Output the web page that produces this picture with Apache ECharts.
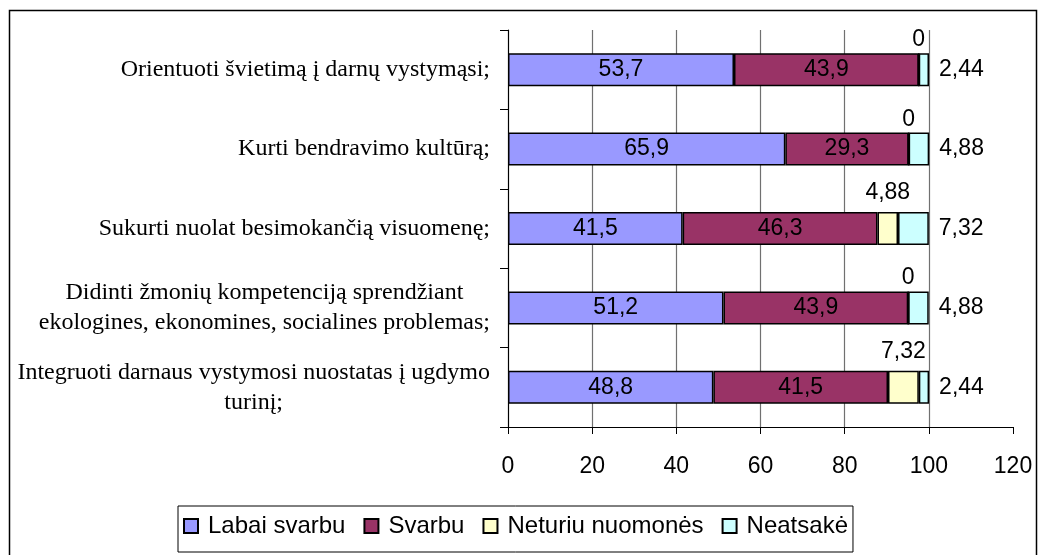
<!DOCTYPE html>
<html>
<head>
<meta charset="utf-8">
<script src="https://cdn.jsdelivr.net/npm/echarts@6/dist/echarts.min.js"></script>
<style>
  html, body { margin: 0; padding: 0; background: #fff; }
  #chart { width: 1042px; height: 555px; }
</style>
</head>
<body>
<div id="chart"></div>
<script>
// kategorijos (iš viršaus į apačią)
var categories = [
    'Orientuoti švietimą į darnų vystymąsi;',
    'Kurti bendravimo kultūrą;',
    'Sukurti nuolat besimokančią visuomenę;',
    'Didinti žmonių kompetenciją sprendžiant\nekologines, ekonomines, socialines problemas;',
    'Integruoti darnaus vystymosi nuostatas į ugdymo\nturinį;'
];
var seriesNames = ['Labai svarbu', 'Svarbu', 'Neturiu nuomonės', 'Neatsakė'];
var labaiSvarbu = [53.7, 65.9, 41.5, 51.2, 48.8];
var svarbu = [43.9, 29.3, 46.3, 43.9, 41.5];
var neturiuNuomones = [0, 0, 4.88, 0, 7.32];
var neatsake = [2.44, 4.88, 7.32, 4.88, 2.44];
var xTicks = [0, 20, 40, 60, 80, 100, 120];

var colors = ['#9999FF', '#993366', '#FFFFCC', '#CCFFFF'];
var sansFont = '"Liberation Sans", Arial, sans-serif';
var serifFont = '"Liberation Serif", "Times New Roman", serif';

var myChart = echarts.init(document.getElementById('chart'));

// skaičius su kableliu
function comma(p) {
    return String(p.value).replace('.', ',');
}

function makeSeries(name, data, idx, labelPos, dist) {
    return {
        name: name,
        type: 'bar',
        stack: 'viso',
        data: data,
        barWidth: 33,
        itemStyle: { color: colors[idx], borderColor: '#000', borderWidth: 1.5 },
        label: {
            show: true,
            position: labelPos,
            distance: dist,
            color: '#000',
            fontFamily: sansFont,
            fontSize: 23,
            formatter: comma
        }
    };
}

// nulinės reikšmės etiketė Excel'yje būna arčiau stulpelio
var neturiuData = neturiuNuomones.map(function (v) {
    return v === 0 ? { value: v, label: { distance: 1 } } : v;
});

myChart.setOption({
    animation: false,
    backgroundColor: '#fff',
    graphic: [{
        type: 'rect',
        shape: { x: 9.5, y: 10.5, width: 1027, height: 580 },
        style: { fill: 'none', stroke: '#000', lineWidth: 1.5 },
        silent: true
    }],
    grid: { left: 508, top: 30, right: 29, bottom: 128 },
    legend: {
        data: seriesNames,
        icon: 'rect',
        left: 178,
        top: 506,
        padding: [8, 5, 14, 5],
        itemGap: 18,
        itemWidth: 14,
        itemHeight: 14,
        borderColor: '#000',
        borderWidth: 1,
        textStyle: { color: '#000', fontFamily: sansFont, fontSize: 24, lineHeight: 24, padding: [0, 0, 0, 5] }
    },
    xAxis: {
        type: 'value',
        min: 0,
        max: 120,
        interval: 20,
        axisLine: { show: true, lineStyle: { color: '#000', width: 1.2 } },
        axisTick: { show: true, length: 7, lineStyle: { color: '#000' } },
        axisLabel: {
            margin: 28,
            color: '#000',
            fontFamily: sansFont,
            fontSize: 23,
            formatter: function (v) { return xTicks.indexOf(v) >= 0 ? String(v) : ''; }
        },
        splitLine: {
            show: true,
            showMinLine: false,
            showMaxLine: false,
            lineStyle: { color: '#707070', width: 1.2 }
        }
    },
    yAxis: {
        type: 'category',
        inverse: true,
        data: categories,
        axisLine: { show: true, lineStyle: { color: '#000', width: 1.2 } },
        axisTick: { show: true, length: 8, lineStyle: { color: '#000' } },
        axisLabel: {
            margin: 18,
            align: 'right',
            color: '#000',
            fontFamily: serifFont,
            fontSize: 24,
            lineHeight: 30,
            formatter: function (v) {
                if (v.indexOf('\n') < 0) return v;
                return v.split('\n').map(function (s) { return '{c|' + s + '}'; }).join('\n');
            },
            rich: {
                c: { align: 'center', color: '#000', fontFamily: serifFont, fontSize: 24, lineHeight: 30 }
            }
        }
    },
    series: [
        makeSeries(seriesNames[0], labaiSvarbu, 0, 'inside', 5),
        makeSeries(seriesNames[1], svarbu, 1, 'inside', 5),
        makeSeries(seriesNames[2], neturiuData, 2, 'top', 8),
        makeSeries(seriesNames[3], neatsake, 3, 'right', 10)
    ]
});
</script>
</body>
</html>
